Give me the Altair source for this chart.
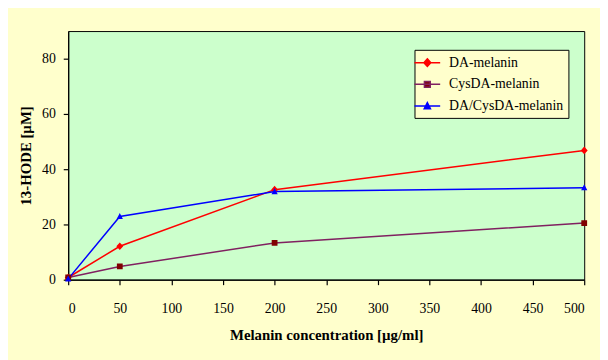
import altair as alt
import pandas as pd

concentration = [0, 50, 200, 500]
da_melanin = [0.8, 12.1, 32.6, 46.8]
cysda_melanin = [0.8, 4.8, 13.3, 20.5]
da_cysda_melanin = [0.3, 22.9, 31.9, 33.3]
series_names = ["DA-melanin", "CysDA-melanin", "DA/CysDA-melanin"]

rows = []
for name, vals in zip(series_names, [da_melanin, cysda_melanin, da_cysda_melanin]):
    for c, v in zip(concentration, vals):
        rows.append({"conc": c, "hode": v, "series": name})
df = pd.DataFrame(rows)

line_colors = ["#FF0000", "#802060", "#0000FF"]
marker_colors = ["#FF0000", "#800000", "#0000FF"]
font = "Liberation Serif"

# marker symbols: a horizontal segment (only visible as a stroke, i.e. in the legend) plus a filled shape
marker_paths = [
    "M-1.86,0L1.86,0M0,-0.55L0.5,0L0,0.55L-0.5,0Z",
    "M-1.86,0L1.86,0M-0.42,-0.42L0.42,-0.42L0.42,0.42L-0.42,0.42Z",
    "M-1.86,0L1.86,0M0,-0.5L0.45,0.38L-0.45,0.38Z",
]

x = alt.X("conc:Q", title="Melanin concentration [µg/ml]",
          scale=alt.Scale(domain=[0, 500], nice=False),
          axis=alt.Axis(values=list(range(0, 501, 50)), grid=False))
y = alt.Y("hode:Q", title="13-HODE [µM]",
          scale=alt.Scale(domain=[0, 90], nice=False),
          axis=alt.Axis(values=[0, 20, 40, 60, 80], grid=False))

lines = alt.Chart(df).mark_line(strokeWidth=1.5).encode(
    x=x, y=y,
    stroke=alt.Stroke("series:N", scale=alt.Scale(domain=series_names, range=line_colors),
                      legend=alt.Legend(title=None)),
)

points = alt.Chart(df).mark_point(filled=True, opacity=1, size=196).encode(
    x=x, y=y,
    fill=alt.Fill("series:N", scale=alt.Scale(domain=series_names, range=marker_colors),
                  legend=alt.Legend(title=None)),
    shape=alt.Shape("series:N", scale=alt.Scale(domain=series_names, range=marker_paths),
                    legend=alt.Legend(title=None)),
)

chart = alt.layer(lines, points).properties(
    width=523, height=252,
    background="#FFFFCC",
    autosize=alt.AutoSizeParams(type="none"),
    padding={"left": 61, "top": 21, "right": 16, "bottom": 79},
).configure_view(
    fill="#CCFFCC", stroke="black", strokeWidth=1
).configure_axis(
    labelFont=font, labelFontSize=14, labelColor="black",
    titleFont=font, titleFontSize=15, titleFontWeight="bold", titleColor="black",
    domainColor="black", tickColor="black", tickSize=5, domainWidth=1.2, tickWidth=1.2,
).configure_axisX(
    labelPadding=17, titlePadding=13,
).configure_axisY(
    labelPadding=8, titlePadding=8,
).configure_legend(
    orient="none", legendX=351, legendY=19,
    fillColor="#FFFFCC", strokeColor="black", padding=5,
    labelFont=font, labelFontSize=14, labelColor="black",
    symbolSize=196, symbolStrokeWidth=1.5, labelOffset=14,
    rowPadding=7, offset=0,
)

chart.save("out.html", embed_options={"renderer": "svg", "actions": False})
